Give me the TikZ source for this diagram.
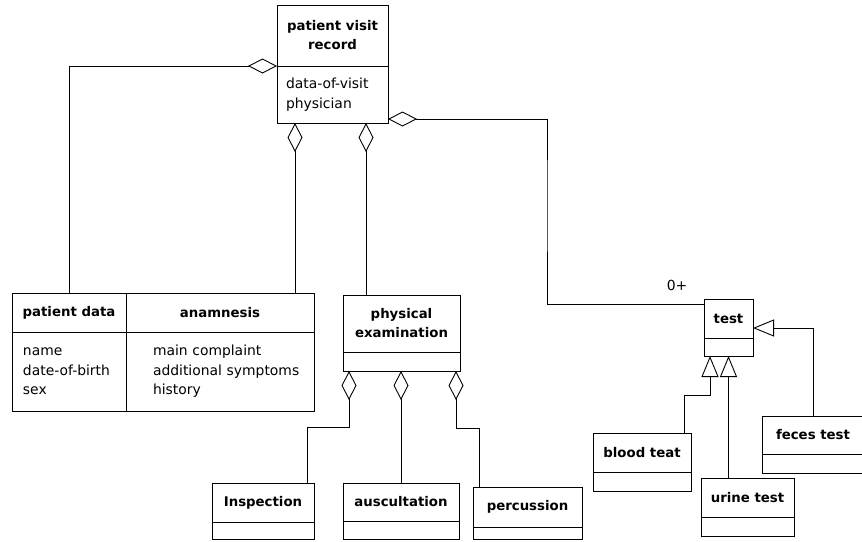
\documentclass[tikz,border=0pt]{standalone}
\usepackage{fontspec}
\setmainfont{DejaVu Sans}
\usetikzlibrary{positioning,arrows.meta}

\begin{document}
\begin{tikzpicture}[x=1pt, y=-1pt, line width=0.9pt,
		every node/.style={font=\fontsize{13.9}{19.6}\selectfont},
		head/.style={draw, outer sep=0pt, inner sep=0pt, align=center, font=\fontsize{13.3}{19}\selectfont\bfseries},
		attrs/.style={draw, outer sep=0pt, inner ysep=0pt, align=left},
		agg/.style={{Diamond[open, length=29pt, width=15pt]}-},
		gen/.style={{Triangle[open, length=21pt, width=17pt]}-}]
				\useasboundingbox (0,0) rectangle (862,541);

				\node (Visit) [head, minimum width=111, minimum height=61] at (332.5, 35.5) {patient visit\\record};
				\node (VisitAttr) [attrs, below=0pt of Visit, inner xsep=9, text width=93, minimum height=57] {data-of-visit\\physician};

				\node (PatData) [head, minimum width=114, minimum height=39] at (69, 312.5) {patient data};
				\node (PatDataAttr) [attrs, below=0pt of PatData, inner xsep=11, text width=92, minimum height=79] {name\\date-of-birth\\sex};
				\node (Anam) [head, minimum width=188, minimum height=39] at (220, 312.5) {anamnesis};
				\node (AnamAttr) [attrs, below=0pt of Anam, inner xsep=27, text width=134, minimum height=79] {main complaint\\\mbox{additional symptoms}\\history};

				\node (Exam) [head, minimum width=117, minimum height=57] at (401.5, 323.5) {physical\\examination};
				\node (ExamAttr) [attrs, below=0pt of Exam, minimum width=117, minimum height=19] {};

				\node (Insp) [head, minimum width=102, minimum height=39] at (263, 502.5) {Inspection};
				\node (InspAttr) [attrs, below=0pt of Insp, minimum width=102, minimum height=17] {};
				\node (Ausc) [head, minimum width=116, minimum height=38] at (401, 502) {auscultation};
				\node (AuscAttr) [attrs, below=0pt of Ausc, minimum width=116, minimum height=18] {};
				\node (Perc) [head, minimum width=109, minimum height=40] at (527.5, 507) {percussion};
				\node (PercAttr) [attrs, below=0pt of Perc, minimum width=109, minimum height=12] {};

				\node (Test) [head, minimum width=49, minimum height=39] at (728.5, 318.5) {test};
				\node (TestAttr) [attrs, below=0pt of Test, minimum width=49, minimum height=18] {};
				\node (Blood) [head, minimum width=98, minimum height=39] at (642, 452.5) {blood teat};
				\node (BloodAttr) [attrs, below=0pt of Blood, minimum width=98, minimum height=19] {};
				\node (Urine) [head, minimum width=93, minimum height=39] at (747.5, 497.5) {urine test};
				\node (UrineAttr) [attrs, below=0pt of Urine, minimum width=93, minimum height=19] {};
				\node (Feces) [head, minimum width=102, minimum height=38] at (813, 435) {feces test};
				\node (FecesAttr) [attrs, below=0pt of Feces, minimum width=102, minimum height=19] {};

				\node (Mult) at (677, 285) {0+};

				\draw [agg] (Visit.south west) -| (PatData.north);
				\coordinate (VisitAnam) at ([xshift=-37.5]VisitAttr.south);
				\draw [agg] (VisitAnam) -- (VisitAnam |- Anam.north);
				\coordinate (VisitExam) at ([xshift=33.5]VisitAttr.south);
				\draw [agg] (VisitExam) -- (VisitExam |- Exam.north);
				\coordinate (VisitTest) at ([yshift=-24.5]VisitAttr.east);
				\coordinate (TestBend) at (547, 200);
				\draw [agg] (VisitTest) -| (TestBend) |- ([yshift=14.5]Test.west);

				\coordinate (ExamInsp) at ([xshift=-52.5]ExamAttr.south);
				\draw [agg] (ExamInsp) |- ([xshift=44, yshift=56]Insp.north) -- ([xshift=44]Insp.north);
				\draw [agg] (Ausc.north |- ExamAttr.south) -- (Ausc.north);
				\coordinate (ExamPerc) at ([xshift=54.5]ExamAttr.south);
				\draw [agg] (ExamPerc) |- ([xshift=-48.5, yshift=59]Perc.north) -- ([xshift=-48.5]Perc.north);

				\coordinate (TestBlood) at ([xshift=-18.5]TestAttr.south);
				\draw [gen] (TestBlood) |- ([xshift=42, yshift=38]Blood.north) -- ([xshift=42]Blood.north);
				\draw [gen] (TestAttr.south) -- (TestAttr.south |- Urine.north);
				\draw [gen] ([yshift=-9.5]Test.east) -| (Feces.north);
			\end{tikzpicture}
\end{document}
